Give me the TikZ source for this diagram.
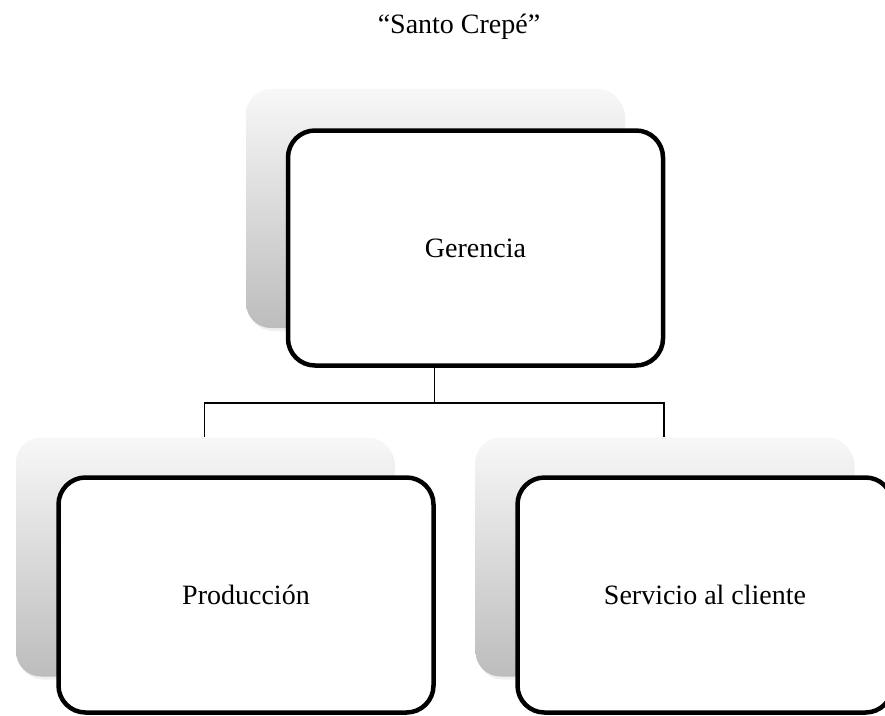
\documentclass[tikz,border=0pt]{standalone}
\usepackage{fontspec}
\setmainfont{Liberation Serif}
\usetikzlibrary{shadows}
\begin{document}
\begin{tikzpicture}[x=1pt,y=-1pt]
  \tikzstyle{unit}=[draw, line width=4.5pt, rounded corners=27pt, fill=white, minimum width=375pt, minimum height=235pt, font=\fontsize{28}{34}\selectfont]
  \tikzstyle{back}=[rounded corners=25pt, top color=black!3, bottom color=black!26, minimum width=377pt, minimum height=239pt, drop shadow={shadow xshift=2pt, shadow yshift=-3pt, opacity=0.12}]
  \tikzstyle{link}=[line width=1.5pt]

  \useasboundingbox (0,0) rectangle (885,715);
  \clip (0,0) rectangle (885,715);

  \node[font=\fontsize{28}{34}\selectfont, anchor=base] (title) at (459,33) {“Santo Crepé”};

  \node[back] (gersh) at (434.5,208.5) {};
  \node[back] (prodsh) at (204.5,557) {};
  \node[back] (servsh) at (664,557) {};

  \coordinate (hub) at (gersh.south |- 0,403);
  \draw[link] (gersh.south) -- (hub) -| (prodsh.north);
  \draw[link] (hub) -| (servsh.north);

  \node[unit] (ger) at (475.5,248) {Gerencia};
  \node[unit] (prod) at (246,595) {Producción};
  \node[unit] (serv) at (705,595) {Servicio al cliente};
\end{tikzpicture}
\end{document}
